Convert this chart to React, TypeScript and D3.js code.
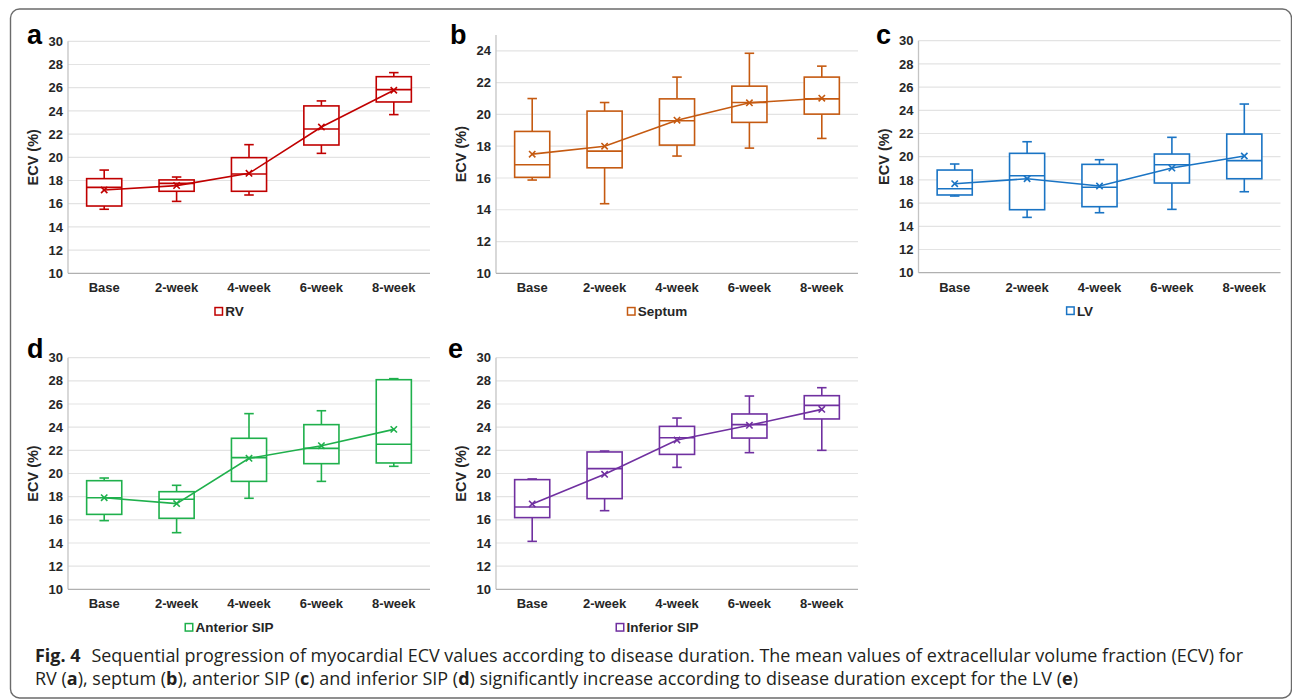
import React, { useRef, useEffect } from "react";
import * as d3 from "d3";

const categories = ["Base", "2-week", "4-week", "6-week", "8-week"];

// [min, q1, median, q3, max] per category
const rvBoxes = [
  [15.52, 15.8, 17.41, 18.16, 18.9],
  [16.2, 17.07, 17.75, 18.05, 18.3],
  [16.75, 17.07, 18.56, 19.97, 21.09],
  [20.34, 21.06, 22.44, 24.43, 24.86],
  [23.68, 24.77, 25.83, 26.95, 27.3],
];
const rvMeans = [17.18, 17.56, 18.62, 22.61, 25.78];

const septumBoxes = [
  [15.87, 16.04, 16.83, 18.93, 21.0],
  [14.38, 16.64, 17.69, 20.21, 20.75],
  [17.38, 18.07, 19.6, 20.98, 22.35],
  [17.88, 19.5, 20.75, 21.78, 23.85],
  [18.49, 20.02, 20.98, 22.35, 23.04],
];
const septumMeans = [17.5, 18.0, 19.64, 20.73, 21.02];

const lvBoxes = [
  [16.61, 16.7, 17.24, 18.85, 19.37],
  [14.77, 15.43, 18.36, 20.29, 21.29],
  [15.17, 15.69, 17.36, 19.34, 19.74],
  [15.46, 17.73, 19.31, 20.23, 21.67],
  [16.98, 18.1, 19.66, 21.95, 24.54],
];
const lvMeans = [17.67, 18.1, 17.47, 19.02, 20.06];

const antSipBoxes = [
  [15.93, 16.47, 17.91, 19.38, 19.61],
  [14.89, 16.13, 17.77, 18.43, 18.98],
  [17.86, 19.32, 21.37, 23.04, 25.17],
  [19.32, 20.85, 22.17, 24.22, 25.42],
  [20.62, 20.91, 22.52, 28.1, 28.19],
];
const antSipMeans = [17.91, 17.4, 21.31, 22.4, 23.81];

const infSipBoxes = [
  [14.14, 16.19, 17.11, 19.47, 19.53],
  [16.79, 17.83, 20.42, 21.86, 21.94],
  [20.53, 21.65, 23.09, 24.07, 24.79],
  [21.8, 23.06, 24.22, 25.14, 26.69],
  [22.0, 24.71, 25.88, 26.72, 27.41],
];
const infSipMeans = [17.37, 19.93, 22.89, 24.16, 25.54];

const panels = [
  { letter: "a", name: "RV", color: "#c00000", boxes: rvBoxes, means: rvMeans, yMax: 30, left: 68, right: 430, top: 41.3, bottom: 273.3, lx: 27, ly: 43.5 },
  { letter: "b", name: "Septum", color: "#c55a11", boxes: septumBoxes, means: septumMeans, yMax: 25, left: 496, right: 858, top: 35, bottom: 273.3, lx: 450, ly: 44 },
  { letter: "c", name: "LV", color: "#1a74c4", boxes: lvBoxes, means: lvMeans, yMax: 30, left: 918.5, right: 1280.5, top: 40.7, bottom: 272.7, lx: 876, ly: 43.5 },
  { letter: "d", name: "Anterior SIP", color: "#1fb04c", boxes: antSipBoxes, means: antSipMeans, yMax: 30, left: 68, right: 430, top: 357.7, bottom: 589.3, lx: 27, ly: 357.5 },
  { letter: "e", name: "Inferior SIP", color: "#7030a0", boxes: infSipBoxes, means: infSipMeans, yMax: 30, left: 496, right: 858, top: 357.7, bottom: 589.3, lx: 448, ly: 357.5 },
];

const chartFont = "'Liberation Sans', Arial, sans-serif";
const captionFont = "'Open Sans', 'Noto Sans', sans-serif";

const App = () => {
  const ref = useRef<SVGSVGElement>(null);

  useEffect(() => {
    const svg = d3.select(ref.current);
    svg.selectAll("*").remove();

    // outer frame
    svg
      .append("rect")
      .attr("x", 10.5)
      .attr("y", 9)
      .attr("width", 1281)
      .attr("height", 689)
      .attr("rx", 9)
      .attr("fill", "none")
      .attr("stroke", "#6b6b6b")
      .attr("stroke-width", 1.4);

    panels.forEach((p) => {
      const g = svg.append("g");
      const x = d3.scaleBand().domain(categories).range([p.left, p.right]);
      const y = d3.scaleLinear().domain([10, p.yMax]).range([p.bottom, p.top]);
      const ticks = d3.range(10, p.yMax + 0.1, 2).filter((t) => t <= p.yMax);
      const cx = (c: string) => (x(c) as number) + x.bandwidth() / 2;
      const boxW = x.bandwidth() * 0.485;
      const capW = 9.5;

      // grid
      g.selectAll(".grid")
        .data(ticks.filter((t) => t > 10))
        .enter()
        .append("line")
        .attr("x1", p.left)
        .attr("x2", p.right)
        .attr("y1", (d) => y(d))
        .attr("y2", (d) => y(d))
        .attr("stroke", "#e3e3e3")
        .attr("stroke-width", 1.2);

      // axes lines
      g.append("line")
        .attr("x1", p.left)
        .attr("x2", p.left)
        .attr("y1", p.top)
        .attr("y2", p.bottom)
        .attr("stroke", "#c4c4c4")
        .attr("stroke-width", 1.3);
      g.append("line")
        .attr("x1", p.left)
        .attr("x2", p.right)
        .attr("y1", p.bottom)
        .attr("y2", p.bottom)
        .attr("stroke", "#b0b0b0")
        .attr("stroke-width", 1.3);

      // tick labels
      g.selectAll(".ytick")
        .data(ticks)
        .enter()
        .append("text")
        .attr("x", p.left - 5)
        .attr("y", (d) => y(d) + 4.6)
        .attr("text-anchor", "end")
        .attr("font-family", chartFont)
        .attr("font-weight", "bold")
        .attr("font-size", 13)
        .attr("fill", "#262626")
        .text((d) => d);

      g.selectAll(".xtick")
        .data(categories)
        .enter()
        .append("text")
        .attr("x", (d) => cx(d))
        .attr("y", p.bottom + 19)
        .attr("text-anchor", "middle")
        .attr("font-family", chartFont)
        .attr("font-weight", "bold")
        .attr("font-size", 13)
        .attr("fill", "#262626")
        .text((d) => d);

      // y axis title
      g.append("text")
        .attr("transform", `translate(${p.left - 30},${(p.top + p.bottom) / 2}) rotate(-90)`)
        .attr("text-anchor", "middle")
        .attr("font-family", chartFont)
        .attr("font-weight", "bold")
        .attr("font-size", 14.5)
        .attr("fill", "#262626")
        .text("ECV (%)");

      // panel letter
      g.append("text")
        .attr("x", p.lx)
        .attr("y", p.ly)
        .attr("font-family", chartFont)
        .attr("font-weight", "bold")
        .attr("font-size", 27)
        .attr("fill", "#000")
        .text(p.letter);

      // boxes
      p.boxes.forEach((b, i) => {
        const c = cx(categories[i]);
        const [mn, q1, md, q3, mx] = b;
        const bg = g.append("g").attr("stroke", p.color).attr("stroke-width", 1.6).attr("fill", "none");
        bg.append("line").attr("x1", c).attr("x2", c).attr("y1", y(q3)).attr("y2", y(mx));
        bg.append("line").attr("x1", c).attr("x2", c).attr("y1", y(q1)).attr("y2", y(mn));
        bg.append("line").attr("x1", c - capW / 2).attr("x2", c + capW / 2).attr("y1", y(mx)).attr("y2", y(mx));
        bg.append("line").attr("x1", c - capW / 2).attr("x2", c + capW / 2).attr("y1", y(mn)).attr("y2", y(mn));
        bg.append("rect")
          .attr("x", c - boxW / 2)
          .attr("y", y(q3))
          .attr("width", boxW)
          .attr("height", y(q1) - y(q3))
          .attr("fill", "#fff");
        bg.append("line").attr("x1", c - boxW / 2).attr("x2", c + boxW / 2).attr("y1", y(md)).attr("y2", y(md));
      });

      // mean line
      const line = d3
        .line<number>()
        .x((d, i) => cx(categories[i]))
        .y((d) => y(d));
      g.append("path")
        .attr("d", line(p.means))
        .attr("fill", "none")
        .attr("stroke", p.color)
        .attr("stroke-width", 1.6);

      const sym = d3.symbol().type(d3.symbolX).size(28);
      g.selectAll(".mean")
        .data(p.means)
        .enter()
        .append("path")
        .attr("transform", (d, i) => `translate(${cx(categories[i])},${y(d)})`)
        .attr("d", sym())
        .attr("fill", "none")
        .attr("stroke", p.color)
        .attr("stroke-width", 1.6);

      // legend
      const lg = g.append("g");
      const lt = lg
        .append("text")
        .attr("x", 11)
        .attr("y", 5)
        .attr("font-family", chartFont)
        .attr("font-weight", "bold")
        .attr("font-size", 13.5)
        .attr("fill", "#262626")
        .text(p.name);
      lg.append("rect")
        .attr("x", 0.75)
        .attr("y", -3.75)
        .attr("width", 7.5)
        .attr("height", 7.5)
        .attr("fill", "#fff")
        .attr("stroke", p.color)
        .attr("stroke-width", 1.5);
      const tw = (lt.node() as SVGTextElement).getComputedTextLength();
      const totalW = 11 + tw;
      const center = (p.left - 40 + p.right) / 2;
      lg.attr("transform", `translate(${center - totalW / 2},${p.bottom + 38})`);
    });

    // caption
    const cap1 = svg
      .append("text")
      .attr("x", 35)
      .attr("y", 662)
      .attr("font-family", captionFont)
      .attr("font-size", 17.5)
      .attr("fill", "#231f20")
      .attr("textLength", 1208)
      .attr("lengthAdjust", "spacingAndGlyphs");
    cap1.append("tspan").attr("font-weight", "bold").text("Fig. 4");
    cap1
      .append("tspan")
      .attr("dx", 6)
      .text(
        " Sequential progression of myocardial ECV values according to disease duration. The mean values of extracellular volume fraction (ECV) for"
      );

    const cap2 = svg
      .append("text")
      .attr("x", 35)
      .attr("y", 685)
      .attr("font-family", captionFont)
      .attr("font-size", 17.5)
      .attr("fill", "#231f20")
      .attr("textLength", 1043)
      .attr("lengthAdjust", "spacingAndGlyphs");
    const parts: [string, boolean][] = [
      ["RV (", false],
      ["a", true],
      ["), septum (", false],
      ["b", true],
      ["), anterior SIP (", false],
      ["c", true],
      [") and inferior SIP (", false],
      ["d", true],
      [") significantly increase according to disease duration except for the LV (", false],
      ["e", true],
      [")", false],
    ];
    parts.forEach(([t, b]) => {
      cap2
        .append("tspan")
        .attr("font-weight", b ? "bold" : "normal")
        .text(t);
    });

    return () => {
      svg.selectAll("*").remove();
    };
  }, []);

  return (
    <svg
      ref={ref}
      width={1292}
      height={700}
      style={{ position: "absolute", left: 0, top: 0, display: "block", background: "#fff" }}
    />
  );
};

export default App;
